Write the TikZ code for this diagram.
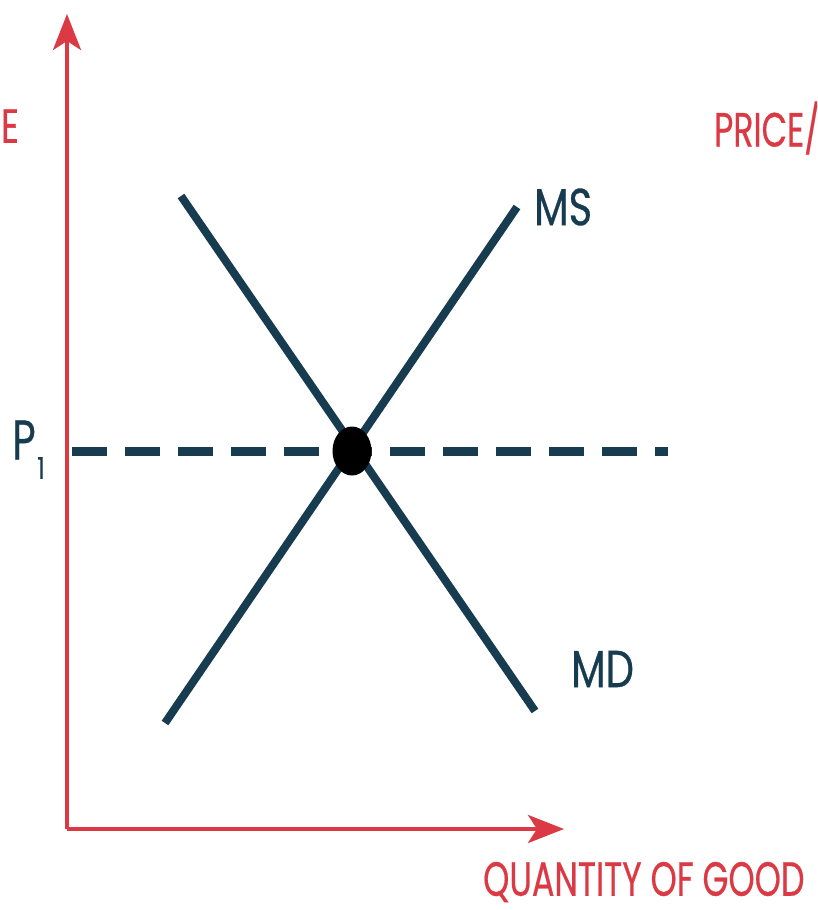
\documentclass[tikz,border=0pt]{standalone}
\usepackage{fontspec}
\setmainfont{Poppins}
\newfontfamily\labfont{Poppins}[FakeBold=0.6]
\usetikzlibrary{arrows.meta,shapes.geometric}
\definecolor{axred}{HTML}{DB3A44}
\definecolor{curve}{HTML}{173C50}
\begin{document}
\begin{tikzpicture}[x=1pt,y=-1pt,
  axis/.style={axred,line width=4pt,-{Stealth[length=36pt,width=28pt,inset=9pt]}},
  curveline/.style={curve,line width=8pt},
  redlab/.style={text=axred,font=\labfont\fontsize{48}{48}\selectfont,inner sep=0pt},
  darklab/.style={text=curve,font=\labfont\fontsize{52}{52}\selectfont,inner sep=0pt}]
\useasboundingbox (0,0) rectangle (817,910);
\clip (0,0) rectangle (817,910);
\fill[white] (0,0) rectangle (817,910);
\coordinate (O) at (67,829);
\coordinate (Ytop) at (67,14);
\coordinate (Xend) at (564,829);
\draw[axis] (O) -- (Ytop);
\draw[axis] (O) -- (Xend);
% curves
\coordinate (MSa) at (165,723);
\coordinate (MSb) at (517,207);
\coordinate (MDa) at (181,196);
\coordinate (MDb) at (535,711);
\draw[curveline] (MSa) -- (MSb);
\draw[curveline] (MDa) -- (MDb);
\coordinate (Da) at (72,451);
\coordinate (Db) at (668,451);
\draw[curve,line width=9pt,dash pattern=on 35pt off 18pt] (Da) -- (Db);
\node[fill=black,ellipse,minimum width=39pt,minimum height=49pt,inner sep=0pt] (eq) at (352,451) {};
% labels
\node[darklab,anchor=west,xscale=0.77] (ms) at (534,207) {MS};
\node[darklab,anchor=west,xscale=0.77] (md) at (571,669) {MD};
\node[darklab,anchor=center,xscale=0.72,font=\labfont\fontsize{56}{56}\selectfont] (p) at (24,440) {P};
\node[darklab,anchor=center,xscale=0.8,font=\labfont\fontsize{30}{30}\selectfont] (one) at (41,468) {1};
\node[redlab,anchor=west,xscale=0.695] (qlab) at (483,882) {QUANTITY OF GOOD};
\node[redlab,anchor=west,xscale=0.69] (plab) at (714,128) {PRICE/};
\node[redlab,anchor=east,xscale=0.72] (elab) at (19,126) {E};
\end{tikzpicture}
\end{document}
